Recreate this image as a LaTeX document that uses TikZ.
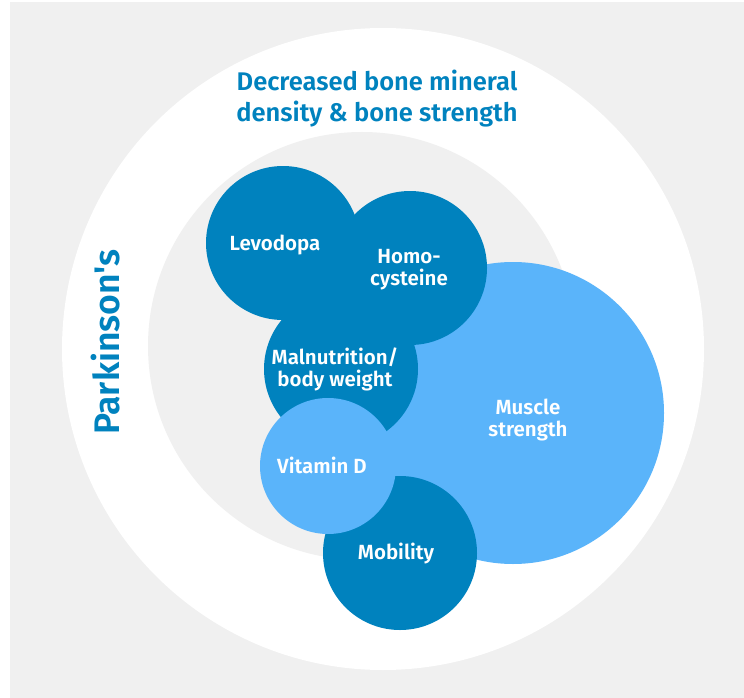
\documentclass[tikz,border=0pt]{standalone}
\usepackage{fontspec}
\setmainfont{Fira Sans}[Ligatures=TeXOff, BoldFont={Fira Sans SemiBold}]
\usepackage{tikz}

\definecolor{bggray}{HTML}{F0F0F0}
\definecolor{darkblue}{HTML}{0082BE}
\definecolor{lightblue}{HTML}{5AB4FA}

\begin{document}
\begin{tikzpicture}[x=1pt, y=-1pt,
ball/.style={circle, inner sep=0pt, minimum size=154pt},
darkball/.style={ball, fill=darkblue},
lightball/.style={ball, fill=lightblue},
balltext/.style={text=white, align=center, inner sep=0pt, font=\bfseries\fontsize{20.5}{22}\selectfont},
titletext/.style={text=darkblue, align=center, inner sep=0pt}
]
\fill[white] (0,0) rectangle (744,698);
\fill[bggray] (10,2) rectangle (744,698);
\fill[white] (383,349) circle (321pt);
\fill[bggray] (362,346) circle (214pt);

\node[titletext, font=\bfseries\fontsize{25.5}{31}\selectfont] (bone) at (377,98.5) {Decreased bone mineral\\density \& bone strength};
\node[titletext, rotate=90, font=\bfseries\fontsize{35.5}{36}\selectfont] (parkinson) at (106,342) {Parkinson's};

\node[lightball, minimum size=302pt] (muscle) at (513,413) {};
\foreach \name/\x/\y in {levodopa/283/243, homo/410/268, malnu/341/369, mobility/400/553}
{
\node[darkball] (\name) at (\x,\y) {};
}
\node[lightball, minimum size=136pt] (vitd) at (328,466) {};

\node[balltext] (levodopa-t) at (275,245) {Levodopa};
\node[balltext] (homo-t) at (409,269.5) {Homo-\\cysteine};
\node[balltext] (malnu-t) at (335,369.5) {Malnutrition/\\body weight};
\node[balltext] (muscle-t) at (528,419.5) {Muscle\\strength};
\node[balltext] (vitd-t) at (322,465) {Vitamin D};
\node[balltext] (mobility-t) at (396,554) {Mobility};
\end{tikzpicture}
\end{document}
